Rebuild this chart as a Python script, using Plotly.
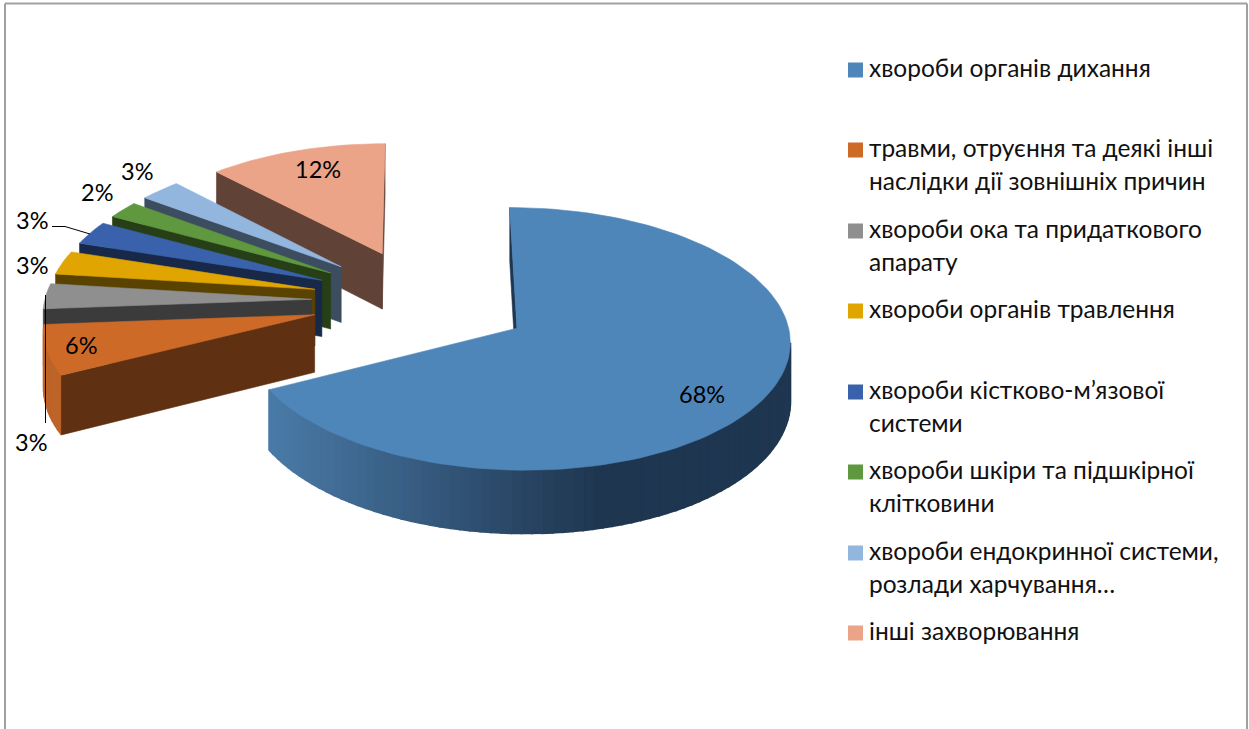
import math
import plotly.graph_objects as go

categories = [
    "хвороби органів дихання",
    "травми, отруєння та деякі інші<br>наслідки дії зовнішніх причин",
    "хвороби ока та придаткового<br>апарату",
    "хвороби органів травлення",
    "хвороби кістково-м’язової<br>системи",
    "хвороби шкіри та підшкірної<br>клітковини",
    "хвороби ендокринної системи,<br>розлади харчування…",
    "інші захворювання",
]
values = [67.5, 6.3, 3.2, 3.0, 3.0, 2.2, 2.8, 12.0]
top_colors = ["#4F86BA", "#CE6A28", "#8F8F8F", "#E0A500", "#3A62AC", "#5F983F", "#93B6DF", "#ECA488"]
wall_colors = ["#1F3650", "#603013", "#3B3B3B", "#5A4300", "#172848", "#263F17", "#3D4D60", "#614237"]
outer_colors = ["#4A7BA8", "#BE6429", "#6E6E6E", "#A87C00", "#2C4A82", "#476F2F", "#6E89A8", "#B27B66"]

# label text anchor positions (pixels) and legend rows (pixels)
label_xy = [(702, 394), (81, 345), (31, 442), (32, 265), (32, 220), (97, 192), (137, 171), (318, 169)]
legend_y = [70, 150, 231, 311, 392, 472, 553, 633]

FONT = "Lato, 'Noto Sans', sans-serif"
LEGEND_SIZE = 24.5
LABEL_SIZE = 23.5
LINE_PITCH = 33

# projection of the exploded pie
CX, CY = 421.5, 300.6
R, RE, H = 267.0, 126.0, 57.0
K = 0.08
EXPLODE = 0.412


def project(x, v, h):
    p = 1.0 / (1.0 - K * v)
    return CX + R * x * p, CY + RE * v * p + H * h * p


def area(poly):
    s = 0.0
    for i in range(len(poly)):
        x0, y0 = poly[i]
        x1, y1 = poly[(i + 1) % len(poly)]
        s += x0 * y1 - x1 * y0
    return s


def hex_rgb(c):
    return tuple(int(c[i:i + 2], 16) for i in (1, 3, 5))


def mix(a, b, t):
    ra, rb = hex_rgb(a), hex_rgb(b)
    return "rgb(%d,%d,%d)" % tuple(round(ra[i] + (rb[i] - ra[i]) * t) for i in range(3))


fig = go.Figure()


def poly(points, color, lw=0.6):
    xs = [p[0] for p in points] + [points[0][0]]
    ys = [p[1] for p in points] + [points[0][1]]
    fig.add_trace(go.Scatter(
        x=xs, y=ys, mode="lines", fill="toself", fillcolor=color,
        line=dict(color=color, width=lw), hoverinfo="skip", showlegend=False,
    ))


total = sum(values)
slices = []
acc = 0.0
for i, val in enumerate(values):
    a0 = 2 * math.pi * acc / total
    a1 = 2 * math.pi * (acc + val) / total
    acc += val
    slices.append((i, a0, a1))

draw_order = [7, 6, 5, 4, 3, 2, 1, 0]
for i in draw_order:
    _, a0, a1 = slices[i]
    m = (a0 + a1) / 2
    ox, ov = EXPLODE * math.sin(m), -EXPLODE * math.cos(m)
    n = max(3, int((a1 - a0) / math.radians(2)))
    rim = [a0 + (a1 - a0) * j / n for j in range(n + 1)]
    world = [(ox, ov)] + [(ox + math.sin(a), ov - math.cos(a)) for a in rim]
    top = [project(x, v, 0) for x, v in world]
    bot = [project(x, v, 1) for x, v in world]
    count = len(world)
    radial = []
    rim_quads = []
    for j in range(count):
        k = (j + 1) % count
        quad = [top[j], top[k], bot[k], bot[j]]
        if area(quad) >= 0:
            continue
        if j == 0 or k == 0:
            radial.append(quad)
        else:
            rim_quads.append(quad)
    # rim first, then the cut faces, so the flat brown face keeps a clean edge
    for quad in rim_quads:
        if i == 0:
            xm = (quad[0][0] + quad[1][0]) / 2
            t = min(1.0, max(0.0, (xm - 266) / 330))
            poly(quad, mix(outer_colors[0], wall_colors[0], t), 2)
        else:
            poly(quad, outer_colors[i], 1.5)
    for quad in radial:
        poly(quad, wall_colors[i])
    poly(top, top_colors[i])

# leader lines
fig.add_trace(go.Scatter(x=[52, 65, 90], y=[226.5, 226.5, 234], mode="lines",
                         line=dict(color="#000000", width=1), hoverinfo="skip", showlegend=False))
fig.add_trace(go.Scatter(x=[45.5, 45.5], y=[295, 423], mode="lines",
                         line=dict(color="#000000", width=1), hoverinfo="skip", showlegend=False))

# legend swatches
fig.add_trace(go.Scatter(
    x=[855.5] * len(categories), y=legend_y, mode="markers",
    marker=dict(symbol="square", size=15, color=top_colors, line=dict(width=0)),
    hoverinfo="skip", showlegend=False,
))

annotations = []
for (x, y), val in zip(label_xy, values):
    annotations.append(dict(x=x, y=y, text=f"{round(val)}%", showarrow=False, xanchor="center", yanchor="middle",
                            font=dict(family=FONT, size=LABEL_SIZE, color="#000000")))
for name, y in zip(categories, legend_y):
    for li, line in enumerate(name.split("<br>")):
        annotations.append(dict(x=867, y=y - 3 + li * LINE_PITCH, text=line, showarrow=False,
                                xanchor="left", yanchor="middle", align="left",
                                font=dict(family=FONT, size=LEGEND_SIZE, color="#111111")))

frame = "#A0A0A0"
fig.update_layout(
    width=1249, height=729, autosize=False,
    margin=dict(l=0, r=0, t=0, b=0),
    paper_bgcolor="#FFFFFF", plot_bgcolor="#FFFFFF",
    xaxis=dict(range=[0, 1249], visible=False, fixedrange=True),
    yaxis=dict(range=[729, 0], visible=False, fixedrange=True),
    annotations=annotations,
    shapes=[
        dict(type="line", x0=5, y0=3.5, x1=1247, y1=3.5, line=dict(color=frame, width=2)),
        dict(type="line", x0=5, y0=3.5, x1=5, y1=729, line=dict(color=frame, width=2)),
        dict(type="line", x0=1247, y0=3.5, x1=1247, y1=729, line=dict(color=frame, width=2)),
    ],
)
fig.write_html(
    "out.html",
    config={"displayModeBar": False},
    post_script="document.body.style.margin='0';document.documentElement.style.overflow='hidden';",
)
